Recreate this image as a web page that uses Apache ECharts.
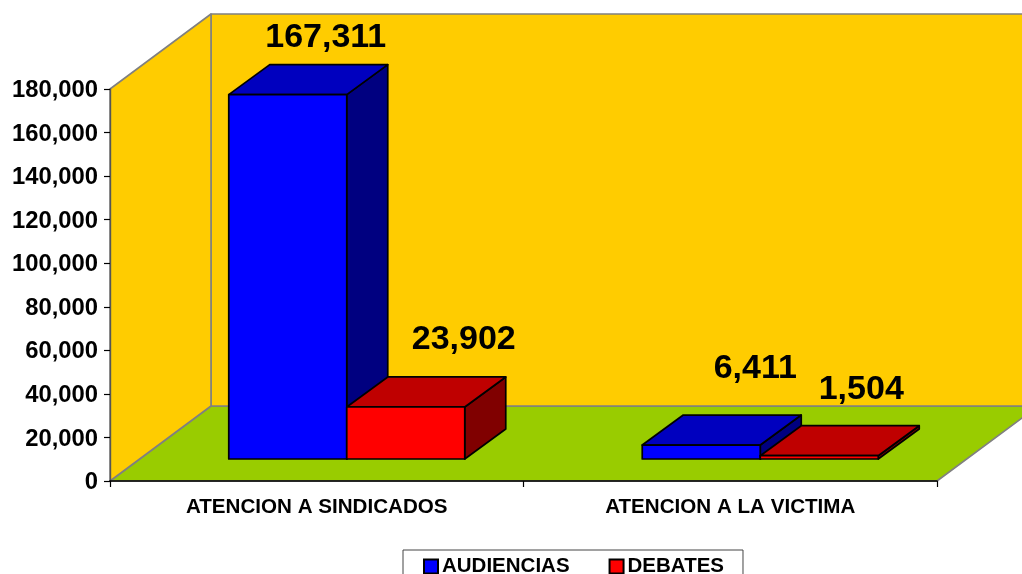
<!DOCTYPE html>
<html>
<head>
<meta charset="utf-8">
<style>
  html, body { margin: 0; padding: 0; background: #fff; }
  #chart { width: 1022px; height: 574px; overflow: hidden; }
</style>
<script src="https://cdn.jsdelivr.net/npm/echarts@6/dist/echarts.min.js"></script>
</head>
<body>
<div id="chart"></div>
<script>
const categories = ["ATENCION A SINDICADOS", "ATENCION A LA VICTIMA"];
const audiencias = [167311, 6411];
const debates = [23902, 1504];

// label nudges from the bar's front-top-centre, px
const audienciasLabelOffset = [[38, -57], [54, -76]];
const debatesLabelOffset = [[58, -67], [42, -66]];

const FONT = '"Liberation Sans", Arial, sans-serif';
const WALL_DX = 101, WALL_DY = -75; // depth of the chart box
const BAR_DX = 41, BAR_DY = -30;    // depth of one bar
const BAR_SHIFT_X = 30, BAR_SHIFT_Y = -22; // bars sit inside the floor
const BAR_W = 118;

const fmt = (v) => v.toLocaleString("en-US");

function poly(points, fill, stroke, lineWidth) {
  return {
    type: "polygon",
    shape: { points },
    style: { fill, stroke, lineWidth, lineJoin: "round" },
  };
}

function renderWalls(params) {
  const r = params.coordSys;
  const l = r.x, t = r.y, b = r.y + r.height, w = r.width;
  const s = "#808080";
  return {
    type: "group",
    children: [
      poly([[l, b], [l + WALL_DX, b + WALL_DY], [l + WALL_DX + w, b + WALL_DY], [l + w, b]], "#99CC00", s, 1.6),
      poly([[l + WALL_DX, t + WALL_DY], [l + WALL_DX + w, t + WALL_DY], [l + WALL_DX + w, b + WALL_DY], [l + WALL_DX, b + WALL_DY]], "#FFCC00", s, 1.6),
      poly([[l, t], [l + WALL_DX, t + WALL_DY], [l + WALL_DX, b + WALL_DY], [l, b]], "#FFCC00", s, 1.6),
    ],
  };
}

function makeBarRenderer(side, colors, labelOffset) {
  return function (params, api) {
    const cat = api.value(0);
    const top = api.coord([cat, api.value(1)]);
    const base = api.coord([cat, 0]);
    const x0 = base[0] + BAR_SHIFT_X + (side === 0 ? -BAR_W : 0);
    const x1 = x0 + BAR_W;
    const y0 = top[1] + BAR_SHIFT_Y;
    const y1 = base[1] + BAR_SHIFT_Y;
    const off = labelOffset[params.dataIndex];
    return {
      type: "group",
      children: [
        poly([[x1, y0], [x1 + BAR_DX, y0 + BAR_DY], [x1 + BAR_DX, y1 + BAR_DY], [x1, y1]], colors[2], "#000", 1.7),
        poly([[x0, y0], [x0 + BAR_DX, y0 + BAR_DY], [x1 + BAR_DX, y0 + BAR_DY], [x1, y0]], colors[1], "#000", 1.7),
        poly([[x0, y0], [x1, y0], [x1, y1], [x0, y1]], colors[0], "#000", 1.7),
        {
          type: "text",
          x: (x0 + x1) / 2 + off[0],
          y: y0 + off[1],
          style: {
            text: fmt(api.value(1)),
            font: "bold 34px " + FONT,
            fill: "#000",
            align: "center",
            verticalAlign: "middle",
          },
        },
      ],
    };
  };
}

const chart = echarts.init(document.getElementById("chart"), null, { renderer: "canvas" });
chart.setOption({
  animation: false,
  backgroundColor: "#fff",
  grid: { left: 110, right: 85, top: 89, bottom: 93, containLabel: false },
  legend: {
    data: ["AUDIENCIAS", "DEBATES"],
    left: 403,
    top: 550,
    padding: [6, 19, 12, 20],
    itemGap: 39,
    itemWidth: 14,
    itemHeight: 14,
    icon: "rect",
    borderColor: "#444",
    borderWidth: 1,
    backgroundColor: "#fff",
    selectedMode: false,
    textStyle: { fontFamily: FONT, fontWeight: "bold", fontSize: 20.5, color: "#000", padding: [0, 0, 2, -1] },
  },
  xAxis: {
    type: "category",
    data: categories,
    z: 3,
    axisLine: { lineStyle: { color: "#000", width: 1.6 } },
    axisTick: { show: true, length: 6, lineStyle: { color: "#000", width: 1.2 } },
    axisLabel: { margin: 16, fontFamily: FONT, fontWeight: "bold", fontSize: 20.6, color: "#000" },
    splitLine: { show: false },
  },
  yAxis: {
    type: "value",
    min: 0,
    max: 180000,
    interval: 20000,
    z: 3,
    axisLine: { show: true, lineStyle: { color: "#555", width: 1.4 } },
    axisTick: { show: true, length: 6, lineStyle: { color: "#000", width: 1.2 } },
    axisLabel: {
      margin: 12,
      formatter: (v) => "{a|" + fmt(v) + "}",
      rich: {
        a: { fontFamily: FONT, fontWeight: "bold", fontSize: 23.8, color: "#000", padding: [3, 0, 0, 0] },
      },
    },
    splitLine: { show: false },
  },
  series: [
    {
      name: "walls",
      type: "custom",
      z: 1,
      silent: true,
      data: [[0, 0]],
      renderItem: renderWalls,
    },
    {
      name: "AUDIENCIAS",
      type: "custom",
      z: 5,
      itemStyle: { color: "#0000FF", borderColor: "#000", borderWidth: 1.4 },
      encode: { x: 0, y: 1 },
      data: audiencias.map((v, i) => [i, v]),
      renderItem: makeBarRenderer(0, ["#0000FF", "#0000BF", "#000080"], audienciasLabelOffset),
    },
    {
      name: "DEBATES",
      type: "custom",
      z: 6,
      itemStyle: { color: "#FF0000", borderColor: "#000", borderWidth: 1.4 },
      encode: { x: 0, y: 1 },
      data: debates.map((v, i) => [i, v]),
      renderItem: makeBarRenderer(1, ["#FF0000", "#BF0000", "#800000"], debatesLabelOffset),
    },
  ],
});
</script>
</body>
</html>
